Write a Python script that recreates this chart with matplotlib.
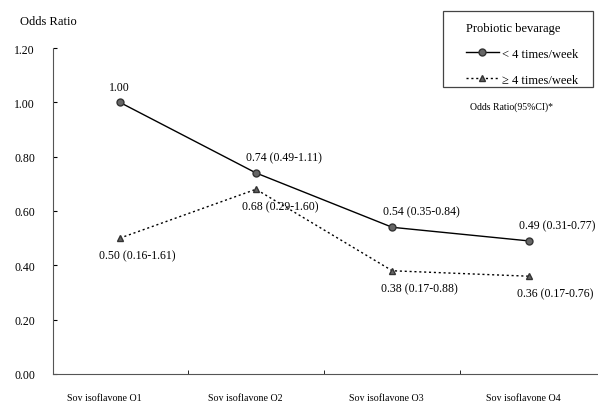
import matplotlib.pyplot as plt
from matplotlib.patches import Rectangle

categories = ["Soy isoflavone Q1", "Soy isoflavone Q2", "Soy isoflavone Q3", "Soy isoflavone Q4"]
low_intake = [1.00, 0.74, 0.54, 0.49]
high_intake = [0.50, 0.68, 0.38, 0.36]
low_labels = ["1.00", "0.74 (0.49-1.11)", "0.54 (0.35-0.84)", "0.49 (0.31-0.77)"]
high_labels = ["0.50 (0.16-1.61)", "0.68 (0.29-1.60)", "0.38 (0.17-0.88)", "0.36 (0.17-0.76)"]
yticks = [0.0, 0.2, 0.4, 0.6, 0.8, 1.0, 1.2]

plt.rcParams['font.family'] = ['Liberation Serif', 'DejaVu Serif']

fig = plt.figure(figsize=(5.98, 4.02), dpi=100)
ax = fig.add_axes([53 / 598, 1 - 375 / 402, 1 - 53 / 598, (375 - 49) / 402])

x = range(len(categories))
ax.plot(x, low_intake, color='black', lw=1.0, marker='o', ms=5,
        mfc='#666666', mec='#333333', label='< 4 times/week')
ax.plot(x, high_intake, color='black', lw=1.0, ls=(0, (1.5, 2)), marker='^', ms=5,
        mfc='#666666', mec='#333333', label='\u2265 4 times/week')

# value labels
ax.annotate(low_labels[0], (0, low_intake[0]), xytext=(0, 7), textcoords='offset points',
            ha='center', va='bottom', fontsize=8.5)
for i in range(1, 4):
    ax.annotate(low_labels[i], (i, low_intake[i]), xytext=(-7, 7), textcoords='offset points',
                ha='left', va='bottom', fontsize=8.5)
offsets = [(-15, -8), (-10, -8), (-8, -8), (-8, -8)]
for i in range(4):
    ax.annotate(high_labels[i], (i, high_intake[i]), xytext=offsets[i], textcoords='offset points',
                ha='left', va='top', fontsize=8.5)

ax.set_xlim(-0.49, 3.51)
ax.set_ylim(0, 1.2)
ax.set_yticks(yticks)
ax.set_yticklabels([f"{v:.2f}" for v in yticks], fontsize=8.5)
ax.tick_params(axis='y', direction='in', length=3, pad=13)

label_shift = [-0.11, -0.08, -0.045, -0.04]
ax.set_xticks([i + d for i, d in zip(x, label_shift)])
ax.set_xticklabels(categories, fontsize=7.2)
ax.set_xticks([0.5, 1.5, 2.5], minor=True)
ax.tick_params(axis='x', which='major', length=0, pad=13)
ax.tick_params(axis='x', which='minor', direction='in', length=3)

for s in ['top', 'right']:
    ax.spines[s].set_visible(False)
for s in ['left', 'bottom']:
    ax.spines[s].set_linestyle((0, (2, 1)))
    ax.spines[s].set_color('#555555')
    ax.spines[s].set_linewidth(0.8)

fig.text(20 / 598, 1 - 22 / 402, "Odds Ratio", fontsize=9, va='center', ha='left')
fig.text(512 / 598, 1 - 107 / 402, "Odds Ratio(95%CI)*", fontsize=7, va='center', ha='center')

leg = ax.legend(title="Probiotic bevarage", loc='upper left',
                bbox_to_anchor=(466 / 598, 1 - 23 / 402), bbox_transform=fig.transFigure,
                fontsize=9, title_fontsize=9, frameon=False, borderpad=0, borderaxespad=0,
                handlelength=2.6, handletextpad=0.25, labelspacing=1.1)
leg._legend_box.align = "left"

# legend frame
fig.patches.append(Rectangle((443 / 598, 1 - 88 / 402), 150 / 598, 76 / 402,
                             transform=fig.transFigure, fill=False,
                             edgecolor='#444444', lw=0.9))

fig.savefig("out.png", dpi=100)
